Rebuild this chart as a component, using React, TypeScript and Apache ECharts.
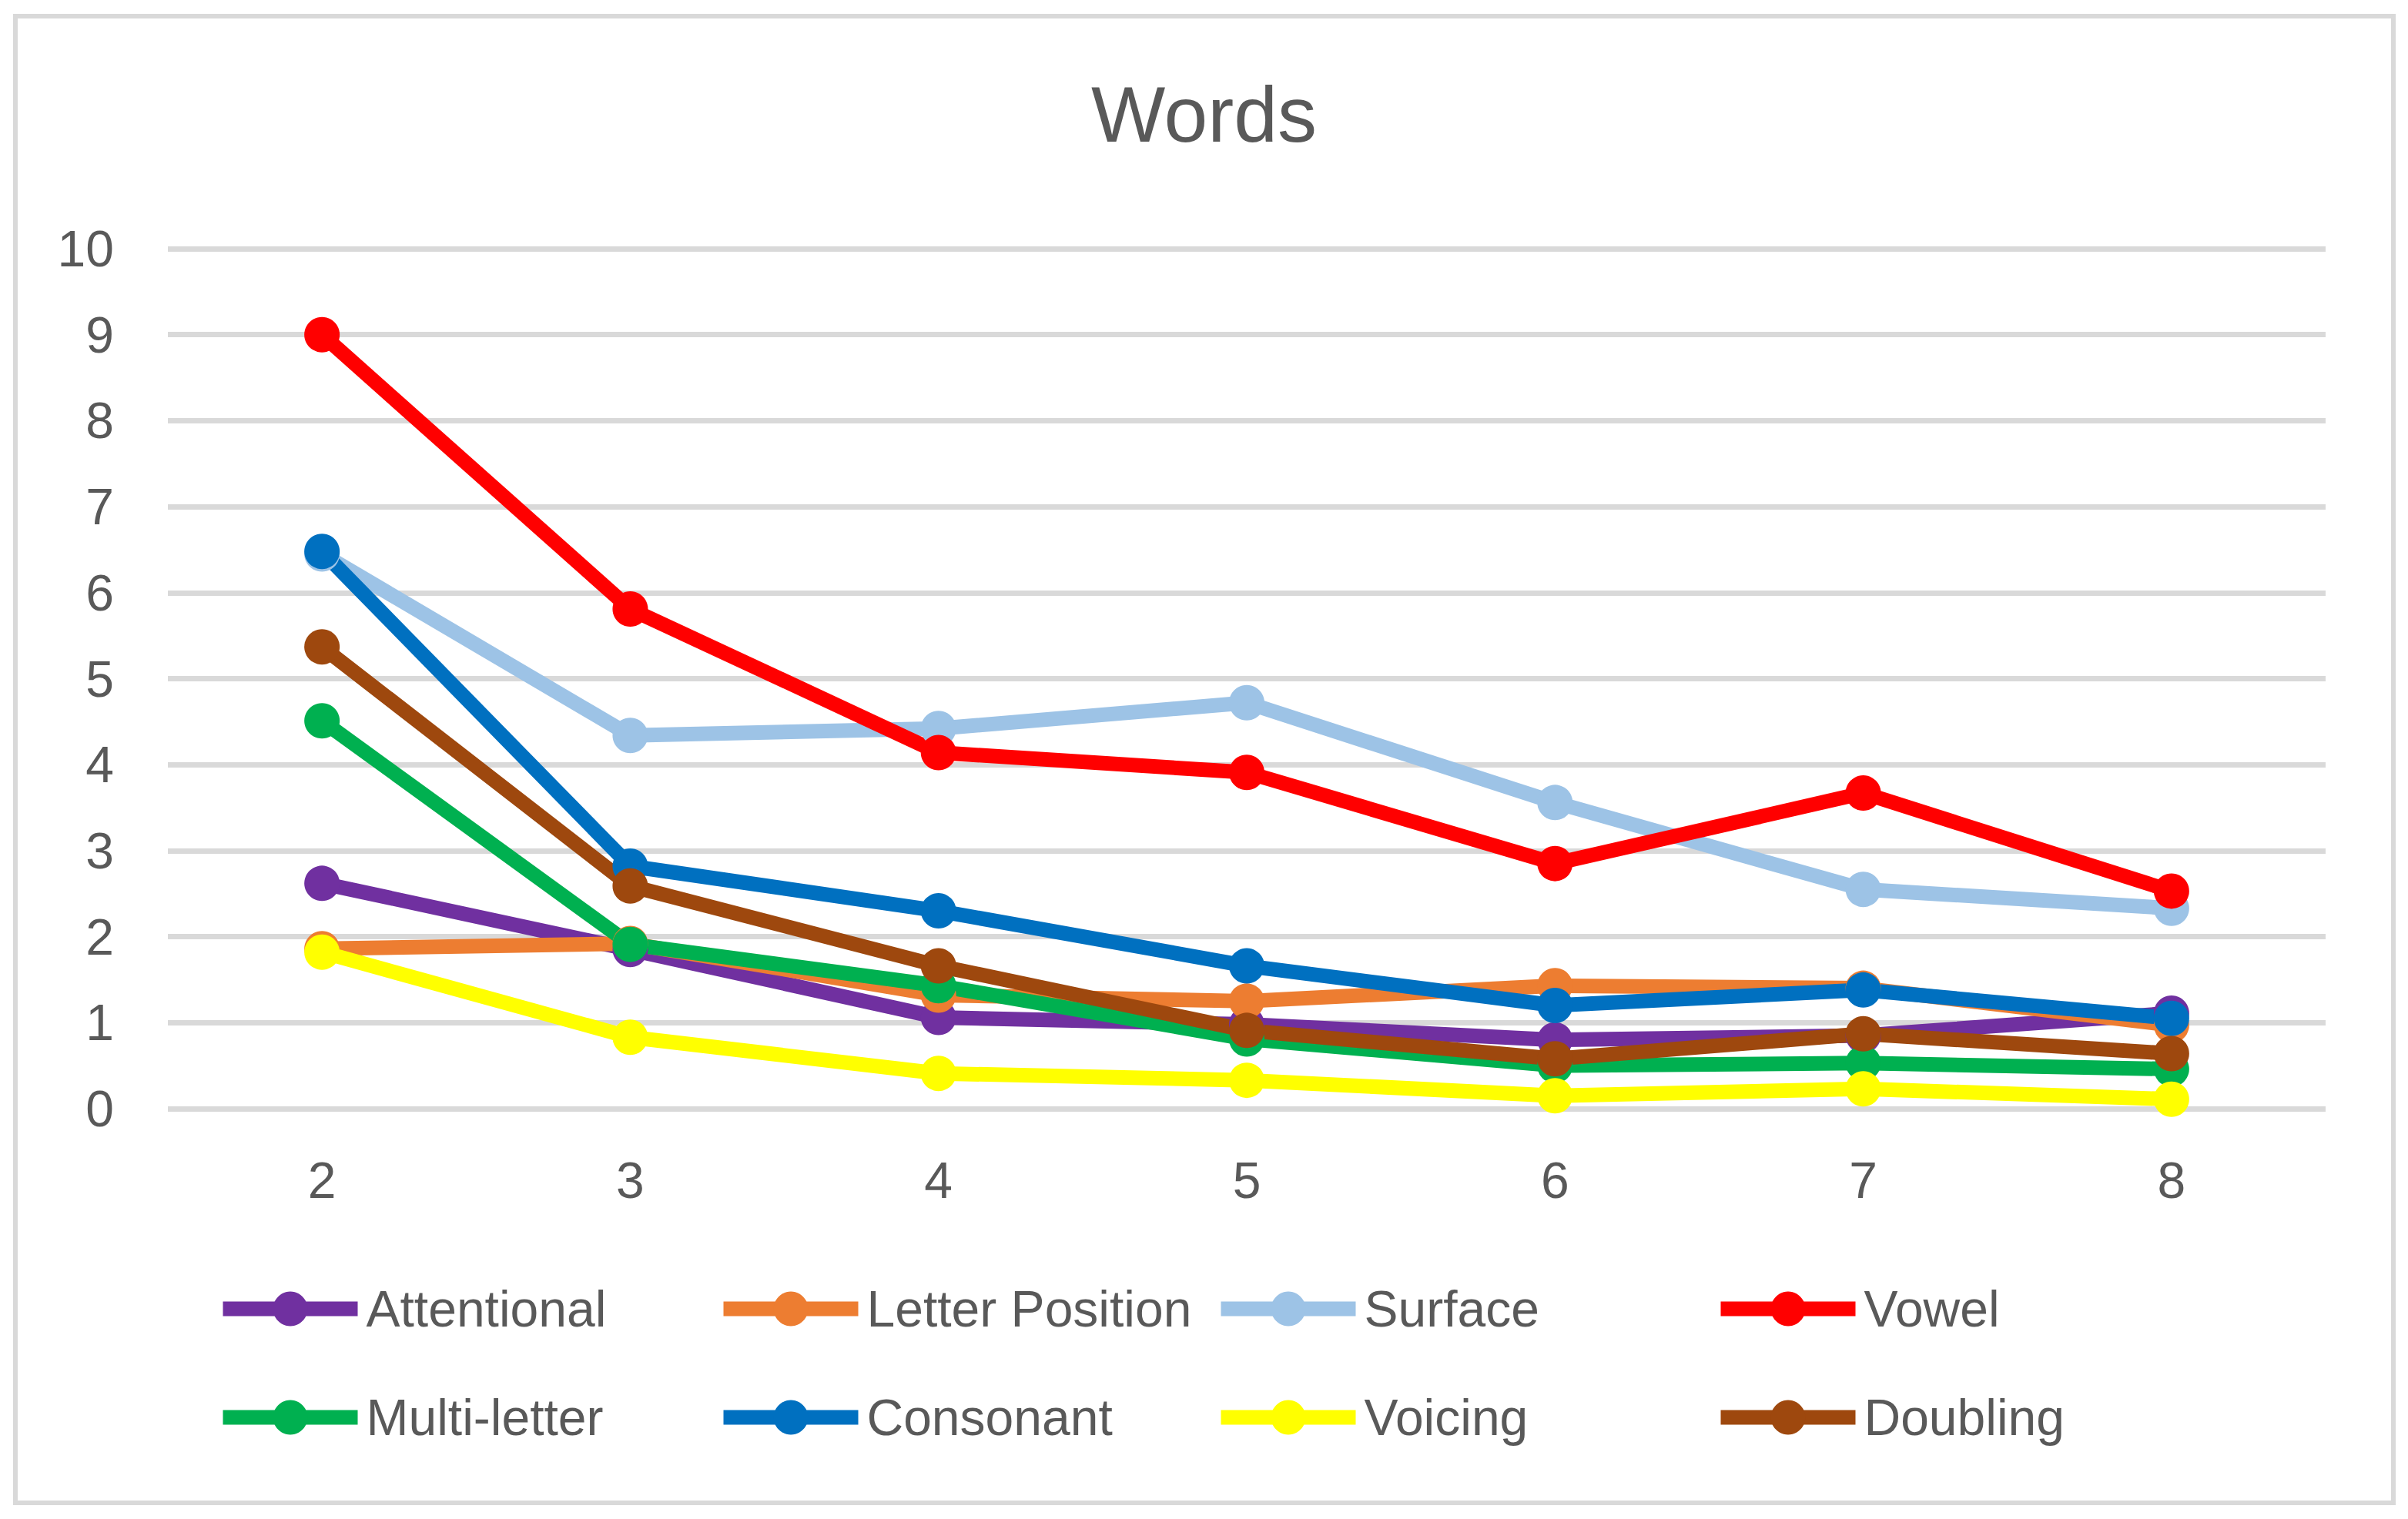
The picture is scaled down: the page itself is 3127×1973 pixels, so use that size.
import React, { useEffect, useRef } from "react";
import * as echarts from "echarts";

const categories = ["2", "3", "4", "5", "6", "7", "8"];
const yTicks = { min: 0, max: 10, interval: 1 };

const seriesNames = [
  "Attentional",
  "Letter Position",
  "Surface",
  "Vowel",
  "Multi-letter",
  "Consonant",
  "Voicing",
  "Doubling",
];

const attentional = [2.62, 1.85, 1.06, 0.98, 0.8, 0.85, 1.11];
const letterPosition = [1.86, 1.92, 1.32, 1.25, 1.43, 1.4, 0.97];
const surface = [6.45, 4.34, 4.42, 4.72, 3.56, 2.55, 2.33];
const vowel = [9.0, 5.81, 4.14, 3.91, 2.85, 3.67, 2.53];
const multiLetter = [4.51, 1.91, 1.43, 0.81, 0.5, 0.53, 0.46];
const consonant = [6.48, 2.82, 2.3, 1.66, 1.2, 1.38, 1.05];
const voicing = [1.82, 0.83, 0.41, 0.33, 0.15, 0.23, 0.11];
const doubling = [5.37, 2.59, 1.66, 0.91, 0.58, 0.87, 0.64];

const seriesValues = [
  attentional,
  letterPosition,
  surface,
  vowel,
  multiLetter,
  consonant,
  voicing,
  doubling,
];

const seriesColors = [
  "#7030a0",
  "#ed7d31",
  "#9dc3e6",
  "#ff0000",
  "#00b050",
  "#0070c0",
  "#ffff00",
  "#9e480e",
];

const FONT = "'Liberation Sans', Arial, sans-serif";
const TEXT = "#595959";
const W = 3127;
const H = 1973;

export default function App() {
  const ref = useRef<HTMLDivElement>(null);

  useEffect(() => {
    document.body.style.margin = "0";
    if (!ref.current) return;
    const chart = echarts.init(ref.current, null, { renderer: "svg" });

    const legendLefts = [275, 925, 1571, 2220];
    const legendTops = [1662, 1803];
    const legends = seriesNames.map((name, i) => ({
      show: true,
      data: [name],
      left: legendLefts[i % 4],
      top: legendTops[Math.floor(i / 4)],
      orient: "horizontal",
      itemWidth: 175,
      itemHeight: 56,
      lineStyle: { width: 19, cap: "butt" },
      selectedMode: false,
      textStyle: {
        fontFamily: FONT,
        fontSize: 66,
        color: TEXT,
        padding: [0, 0, 0, 6],
      },
    }));

    chart.setOption({
      animation: false,
      backgroundColor: "#ffffff",
      title: {
        text: "Words",
        left: "center",
        top: 93,
        textStyle: {
          fontFamily: FONT,
          fontSize: 102,
          fontWeight: "normal",
          color: TEXT,
        },
      },
      graphic: [
        {
          type: "rect",
          shape: { x: 20, y: 21, width: 3088, height: 1931 },
          style: { fill: "none", stroke: "#d9d9d9", lineWidth: 6 },
          silent: true,
          z: -1,
        },
      ],
      legend: legends,
      grid: {
        left: 218,
        right: 107,
        top: 323,
        bottom: 533,
        containLabel: false,
      },
      xAxis: {
        type: "category",
        data: categories,
        boundaryGap: true,
        axisLine: { show: false },
        axisTick: { show: false },
        splitLine: { show: false },
        axisLabel: {
          fontFamily: FONT,
          fontSize: 66,
          color: TEXT,
          margin: 60,
        },
      },
      yAxis: {
        type: "value",
        min: yTicks.min,
        max: yTicks.max,
        interval: yTicks.interval,
        axisLine: { show: false },
        axisTick: { show: false },
        splitLine: { show: true, lineStyle: { color: "#d9d9d9", width: 7 } },
        axisLabel: {
          fontFamily: FONT,
          fontSize: 66,
          color: TEXT,
          margin: 70,
        },
      },
      series: seriesNames.map((name, i) => ({
        name,
        type: "line",
        data: seriesValues[i],
        symbol: "circle",
        symbolSize: 46,
        showSymbol: true,
        color: seriesColors[i],
        lineStyle: { width: 19, color: seriesColors[i], cap: "round", join: "round" },
        itemStyle: { color: seriesColors[i], borderWidth: 0 },
        emphasis: { disabled: true },
      })),
    });

    return () => {
      chart.dispose();
    };
  }, []);

  return (
    <div
      ref={ref}
      style={{ position: "absolute", left: 0, top: 0, width: W, height: H }}
    />
  );
}
